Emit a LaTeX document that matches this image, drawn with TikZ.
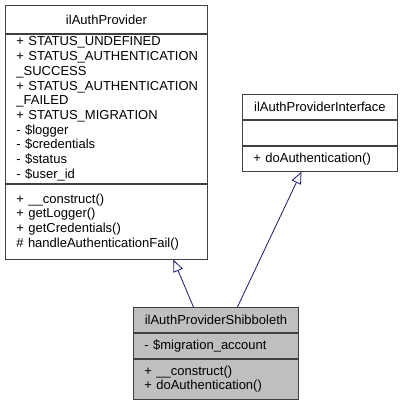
\documentclass[tikz,border=0pt]{standalone}
\usepackage{fontspec}
\setmainfont{Liberation Sans}
\usetikzlibrary{arrows.meta}

\definecolor{edgeblue}{HTML}{191970}
\definecolor{boxline}{HTML}{404040}
\definecolor{shibfill}{HTML}{BFBFBF}
\hyphenpenalty=10000
\exhyphenpenalty=10000

\begin{document}
\begin{tikzpicture}[x=1pt,y=-1pt,
  part/.style={draw=boxline, line width=0.9pt, anchor=north west,
    inner xsep=11pt, inner ysep=0pt, align=left,
    font=\fontsize{13}{14.7}\selectfont},
  head/.style={part, align=center},
  inherit/.style={draw=edgeblue, line width=0.8pt,
    -{Triangle[open, length=12pt, width=10pt]}}]
  \useasboundingbox (0,0) rectangle (403,404);

  % base class
  \node [head, text width=180pt, minimum height=28pt] (provtitle) at (5,5) {ilAuthProvider};
  \node [part, text width=180pt, minimum height=149pt] (provattr) at (provtitle.south west)
    {+~STATUS\_UNDEFINED\\+~STATUS\_AUTHENTICATION\\\_SUCCESS\\+~STATUS\_AUTHENTICATION\\\_FAILED\\+~STATUS\_MIGRATION\\-~\$logger\\-~\$credentials\\-~\$status\\-~\$user\_id};
  \node [part, text width=180pt, minimum height=75pt] (provmeth) at (provattr.south west)
    {+~\_\_construct()\\+~getLogger()\\+~getCredentials()\\\#~handleAuthenticationFail()};

  % interface
  \node [head, text width=133pt, minimum height=25pt] (ifacetitle) at (242,94) {ilAuthProviderInterface};
  \node [part, text width=133pt, minimum height=25pt] (ifaceattr) at (ifacetitle.south west) {};
  \node [part, text width=133pt, minimum height=25pt] (ifacemeth) at (ifaceattr.south west)
    {+~doAuthentication()};

  % derived class
  \node [head, fill=shibfill, text width=143pt, minimum height=25pt] (shibtitle) at (133,307) {ilAuthProviderShibboleth};
  \node [part, fill=shibfill, text width=143pt, minimum height=25pt] (shibattr) at (shibtitle.south west)
    {-~\$migration\_account};
  \node [part, fill=shibfill, text width=143pt, minimum height=40pt] (shibmeth) at (shibattr.south west)
    {+~\_\_construct()\\+~doAuthentication()};

  \draw [inherit] ([xshift=-22.5pt]shibtitle.north) -- ([xshift=67pt]provmeth.south);
  \draw [inherit] ([xshift=21.5pt]shibtitle.north) -- ([xshift=-18.5pt]ifacemeth.south);
\end{tikzpicture}
\end{document}
